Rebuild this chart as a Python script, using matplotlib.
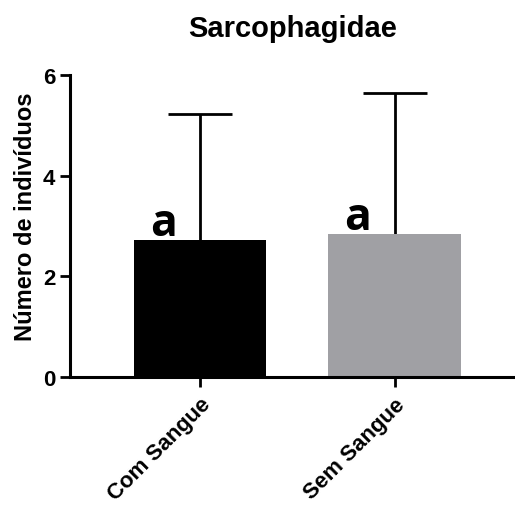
import matplotlib.pyplot as plt

# dados
categorias = ['Com Sangue', 'Sem Sangue']
medias = [2.72, 2.84]
desvios = [2.51, 2.81]
letras = ['a', 'a']
cores = ['#000000', '#a0a0a4']

plt.rcParams['font.family'] = ['Liberation Sans', 'DejaVu Sans']

fig = plt.figure(figsize=(5.15, 5.06), dpi=100)
ax = fig.add_axes([0.136, 0.253, 0.864, 0.597])

x = list(range(len(categorias)))
ax.bar(x, medias, width=0.68, color=cores, zorder=2)
_, caps, _ = ax.errorbar(x, medias, yerr=[[0] * len(desvios), desvios], fmt='none',
                         ecolor='black', elinewidth=2, capsize=23, capthick=2, zorder=1)
caps[0].set_visible(False)  # só a barra de cima

# letras de significância
for xi, m, l in zip(x, medias, letras):
    ax.text(xi - 0.19, m + 0.1, l, ha='center', va='baseline',
            fontsize=32, fontweight='bold', family=['Open Sans', 'DejaVu Sans'])

ax.set_xlim(-0.67, 1.62)
ax.set_ylim(0, 6)
ax.set_yticks([0, 2, 4, 6])
ax.set_xticks(x)
ax.set_xticklabels(categorias, rotation=45, ha='right', rotation_mode='anchor',
                   fontsize=16, fontweight='bold')
for lab in ax.get_yticklabels():
    lab.set_fontweight('bold')
ax.tick_params(axis='y', labelsize=16, width=2, length=7)
ax.tick_params(axis='x', width=2, length=7, pad=5)

for s in ['top', 'right']:
    ax.spines[s].set_visible(False)
for s in ['left', 'bottom']:
    ax.spines[s].set_linewidth(2.2)

ax.set_ylabel('Número de indivíduos', fontsize=17, fontweight='bold')
ax.yaxis.set_label_coords(-0.074, 0.535)
ax.set_title('Sarcophagidae', fontsize=21, fontweight='bold', pad=28)

plt.savefig('out.png', dpi=100)
